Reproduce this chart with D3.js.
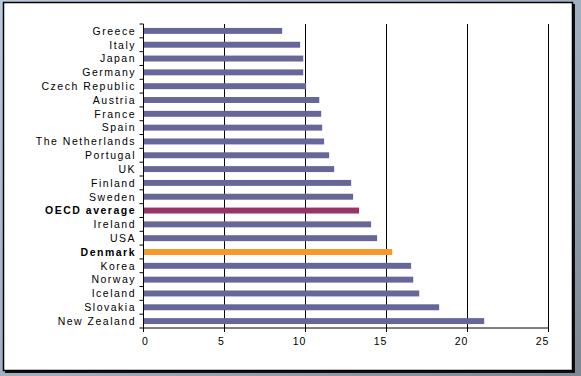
<!DOCTYPE html>
<html>
<head>
<meta charset="utf-8">
<script src="https://cdn.jsdelivr.net/npm/d3@7"></script>
<style>
body { margin: 0; }
svg { display: block; }
text { font-family: "Liberation Sans", Arial, sans-serif; }
</style>
</head>
<body>
<div id="chart"></div>
<script>
var countries = ["Greece", "Italy", "Japan", "Germany", "Czech Republic", "Austria", "France", "Spain",
    "The Netherlands", "Portugal", "UK", "Finland", "Sweden", "OECD average", "Ireland", "USA",
    "Denmark", "Korea", "Norway", "Iceland", "Slovakia", "New Zealand"];
var values = [8.56, 9.67, 9.86, 9.86, 10.04, 10.85, 10.97, 11.03,
    11.15, 11.46, 11.77, 12.82, 12.94, 13.31, 14.05, 14.42,
    15.35, 16.52, 16.65, 17.02, 18.25, 21.03];
var xTicks = [0, 5, 10, 15, 20, 25];
var highlight = {"OECD average": "#993366", "Denmark": "#f7982a"};
var barColor = "#666699";

var width = 581, height = 376;
var svg = d3.select("#chart").append("svg")
    .attr("width", width)
    .attr("height", height);

// background
var grad = svg.append("defs").append("linearGradient")
    .attr("id", "bg").attr("x1", 0).attr("y1", 0).attr("x2", 1).attr("y2", 1);
grad.append("stop").attr("offset", "0%").attr("stop-color", "#b9cadb");
grad.append("stop").attr("offset", "55%").attr("stop-color", "#9eaebf");
grad.append("stop").attr("offset", "100%").attr("stop-color", "#7d8793");
svg.append("rect").attr("width", width).attr("height", height).attr("fill", "url(#bg)");

// panel with shadowed border
svg.append("rect").attr("x", 5).attr("y", 4).attr("width", 570).attr("height", 369).attr("fill", "#111");
svg.append("rect").attr("x", 3.5).attr("y", 2.5).attr("width", 569).attr("height", 368)
    .attr("fill", "#fff").attr("stroke", "#000").attr("stroke-width", 1.5);

var x = d3.scaleLinear().domain([0, 25]).range([143.5, 548.5]);
var y = d3.scaleBand().domain(countries).range([24, 328]).paddingInner(0.57).paddingOuter(0.285);

// gridlines
svg.append("g").selectAll("line")
    .data(xTicks.slice(1))
    .enter().append("line")
    .attr("x1", function(d){ return x(d); })
    .attr("x2", function(d){ return x(d); })
    .attr("y1", 24).attr("y2", 328)
    .attr("stroke", "#000").attr("stroke-width", 1);

// bars
svg.append("g").selectAll("rect")
    .data(countries)
    .enter().append("rect")
    .attr("x", x(0))
    .attr("y", function(d){ return y(d); })
    .attr("width", function(d, i){ return x(values[i]) - x(0); })
    .attr("height", y.bandwidth())
    .attr("fill", function(d){ return highlight[d] || barColor; });

// y axis with ticks at band boundaries
var yAxis = svg.append("g");
yAxis.append("line")
    .attr("x1", x(0)).attr("x2", x(0))
    .attr("y1", 24).attr("y2", 328)
    .attr("stroke", "#000");
yAxis.selectAll(".tick")
    .data(d3.range(countries.length + 1))
    .enter().append("line")
    .attr("x1", x(0) - 4).attr("x2", x(0))
    .attr("y1", function(i){ return 24 + i * y.step(); })
    .attr("y2", function(i){ return 24 + i * y.step(); })
    .attr("stroke", "#000");
yAxis.selectAll("text")
    .data(countries)
    .enter().append("text")
    .attr("x", 136)
    .attr("y", function(d){ return y(d) + y.bandwidth() / 2; })
    .attr("dy", "0.36em")
    .attr("text-anchor", "end")
    .style("font-size", "10.5px")
    .style("letter-spacing", "1.5px")
    .style("font-weight", function(d){ return highlight[d] ? "bold" : "normal"; })
    .attr("fill", "#000")
    .text(function(d){ return d; });

// x axis
var xAxis = svg.append("g");
xAxis.append("line")
    .attr("x1", x(0)).attr("x2", x(25))
    .attr("y1", 328).attr("y2", 328)
    .attr("stroke", "#000");
xAxis.selectAll("line.tick")
    .data(xTicks)
    .enter().append("line")
    .attr("class", "tick")
    .attr("x1", function(d){ return x(d); })
    .attr("x2", function(d){ return x(d); })
    .attr("y1", 328).attr("y2", 332)
    .attr("stroke", "#000");
xAxis.selectAll("text")
    .data(xTicks)
    .enter().append("text")
    .attr("x", function(d){ return x(d) + (d < 10 ? (d === 0 ? 2 : -3) : -6); })
    .attr("y", 344.5)
    .attr("text-anchor", "middle")
    .style("font-size", "10.5px")
    .style("letter-spacing", "1px")
    .attr("fill", "#000")
    .text(function(d){ return d; });
</script>
</body>
</html>
